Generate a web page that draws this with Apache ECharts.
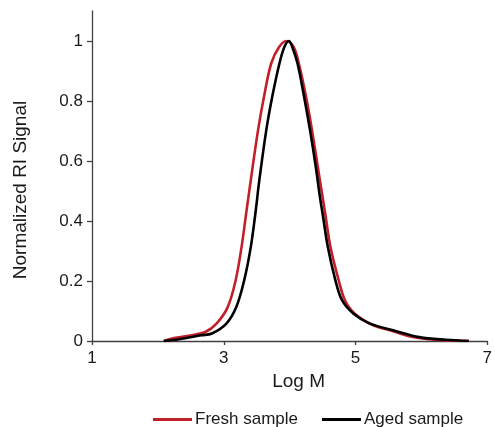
<!DOCTYPE html>
<html>
<head>
<meta charset="utf-8">
<script src="https://cdn.jsdelivr.net/npm/echarts@6/dist/echarts.min.js"></script>
<style>
html,body{margin:0;padding:0;background:#fff;}
#c{width:495px;height:427px;}
</style>
</head>
<body>
<div id="c"></div>
<script>
// Data
var seriesNames = ['Fresh sample', 'Aged sample'];
var xTicks = [1, 3, 5, 7];
var yTicks = [0, 0.2, 0.4, 0.6, 0.8, 1];

var freshLogM   = [2.09, 2.17, 2.51, 2.72, 2.89, 3.06, 3.18, 3.27, 3.34, 3.41, 3.52, 3.61, 3.72, 3.84, 3.95, 4.06, 4.14, 4.25, 4.34, 4.42, 4.50, 4.54, 4.62, 4.745, 4.84, 4.99, 5.27, 5.52, 5.87, 6.22, 6.72];
var freshSignal = [0.000, 0.006, 0.019, 0.030, 0.058, 0.113, 0.202, 0.313, 0.425, 0.536, 0.702, 0.813, 0.925, 0.980, 1.000, 0.980, 0.925, 0.813, 0.702, 0.591, 0.480, 0.425, 0.313, 0.202, 0.136, 0.091, 0.052, 0.036, 0.013, 0.004, 0.000];

var agedLogM    = [2.09, 2.32, 2.66, 2.82, 3.04, 3.19, 3.31, 3.41, 3.48, 3.54, 3.645, 3.735, 3.845, 3.92, 3.99, 4.04, 4.12, 4.22, 4.31, 4.39, 4.46, 4.50, 4.58, 4.695, 4.795, 4.97, 5.22, 5.57, 5.97, 6.37, 6.72];
var agedSignal  = [0.000, 0.006, 0.019, 0.025, 0.058, 0.113, 0.202, 0.313, 0.425, 0.536, 0.702, 0.813, 0.925, 0.980, 1.000, 0.980, 0.925, 0.813, 0.702, 0.591, 0.480, 0.425, 0.313, 0.202, 0.136, 0.091, 0.058, 0.036, 0.013, 0.004, 0.000];

function zip(xs, ys) {
  var out = [];
  for (var i = 0; i < xs.length; i++) out.push([xs[i], ys[i]]);
  return out;
}

var FONT = 'Liberation Sans, Arial, sans-serif';
var AXIS_COLOR = '#404040';
var TEXT_COLOR = '#1a1a1a';

var chart = echarts.init(document.getElementById('c'), null, {renderer: 'canvas'});
chart.setOption({
  animation: false,
  backgroundColor: '#fff',
  grid: {left: 92, right: 4, top: 11, bottom: 86, containLabel: false},
  legend: {
    data: seriesNames,
    left: 148,
    top: 406,
    itemWidth: 39,
    itemHeight: 3,
    itemGap: 24,
    icon: 'rect',
    textStyle: {fontFamily: FONT, fontSize: 17, color: TEXT_COLOR, padding: [0, 0, 0, -2]}
  },
  xAxis: {
    type: 'value',
    min: 1,
    max: 7,
    interval: 2,
    name: 'Log M',
    nameLocation: 'middle',
    nameGap: 31,
    nameTextStyle: {fontFamily: FONT, fontSize: 19, color: TEXT_COLOR, padding: [0, 0, 0, 18]},
    axisLine: {show: true, lineStyle: {color: AXIS_COLOR, width: 1.3}},
    axisTick: {show: true, length: 4, lineStyle: {color: AXIS_COLOR, width: 1.3}, customValues: xTicks},
    axisLabel: {fontFamily: FONT, fontSize: 17, color: TEXT_COLOR, margin: 9, customValues: xTicks},
    splitLine: {show: false}
  },
  yAxis: {
    type: 'value',
    min: 0,
    max: 1.1,
    interval: 0.2,
    name: 'Normalized RI Signal',
    nameLocation: 'middle',
    nameGap: 62,
    nameRotate: 90,
    nameTextStyle: {fontFamily: FONT, fontSize: 19, color: TEXT_COLOR, padding: [0, 28, 0, 0]},
    axisLine: {show: true, lineStyle: {color: AXIS_COLOR, width: 1.3}},
    axisTick: {show: true, length: 5, lineStyle: {color: AXIS_COLOR, width: 1.3}, customValues: yTicks},
    axisLabel: {fontFamily: FONT, fontSize: 17, color: TEXT_COLOR, margin: 9, customValues: yTicks,
      formatter: function (v) { return String(Math.round(v * 10) / 10); }},
    splitLine: {show: false}
  },
  series: [
    {
      name: seriesNames[0],
      type: 'line',
      data: zip(freshLogM, freshSignal),
      symbol: 'none',
      smooth: 0.35,
      lineStyle: {color: '#C1202A', width: 2.6},
      itemStyle: {color: '#C1202A'}
    },
    {
      name: seriesNames[1],
      type: 'line',
      data: zip(agedLogM, agedSignal),
      symbol: 'none',
      smooth: 0.35,
      lineStyle: {color: '#000000', width: 2.6},
      itemStyle: {color: '#000000'}
    }
  ]
});
</script>
</body>
</html>
